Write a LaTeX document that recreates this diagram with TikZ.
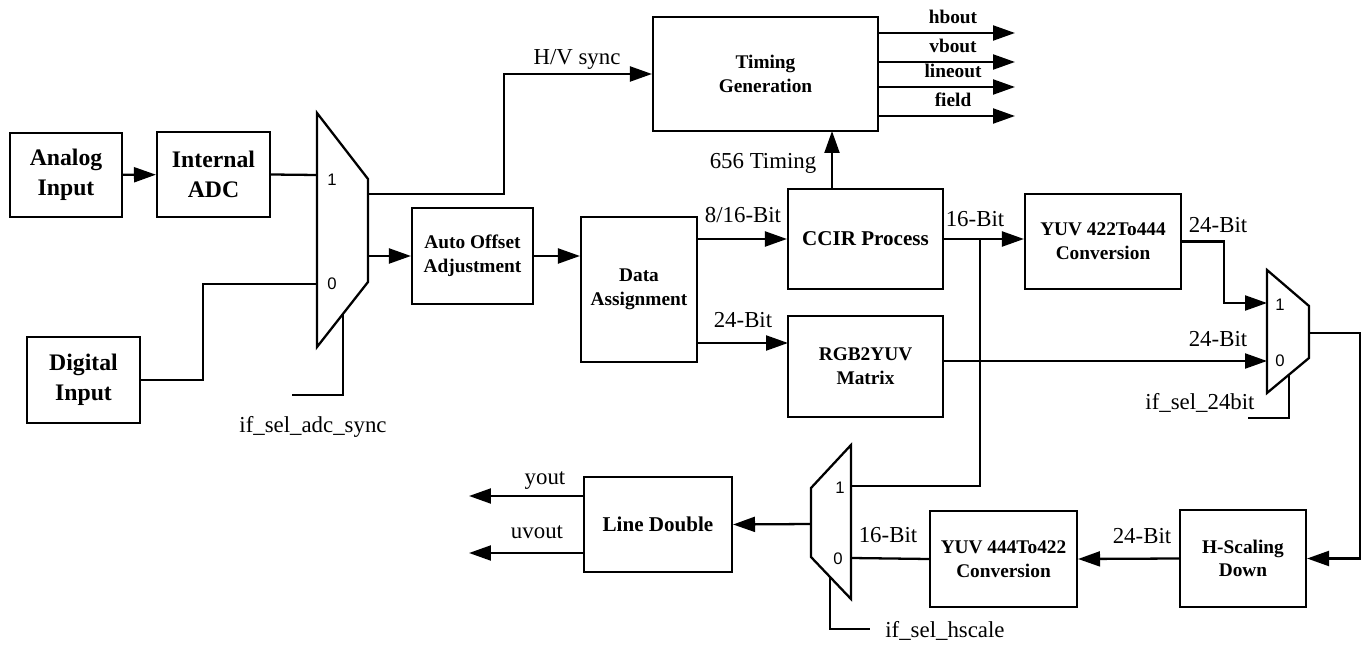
\documentclass[tikz,border=0pt]{standalone}
\usepackage{fontspec}
\setmainfont{Liberation Serif}
\setsansfont{Liberation Sans}
\usetikzlibrary{arrows.meta}
\tikzset{
  block/.style={
    draw,
    line width=1.2pt,
    align=center,
    inner sep=0pt,
    font=\fontsize{11}{13.5}\selectfont\bfseries
  },
  big block/.style={
    block,
    font=\fontsize{13.5}{17}\selectfont\bfseries
  },
  boxsize/.style 2 args={
    minimum width=#1*0.02cm,
    minimum height=#2*0.02cm
  },
  wire/.style={
    line width=1.3pt
  },
  bus label/.style={
    font=\fontsize{13}{15}\selectfont,
    inner sep=0pt,
    anchor=base
  },
  sig label/.style={
    font=\fontsize{11}{13}\selectfont\bfseries,
    inner sep=0pt,
    anchor=base
  },
  pin label/.style={
    font=\sffamily\fontsize{9.5}{10}\selectfont,
    inner sep=0pt
  }
}

\begin{document}
\begin{tikzpicture}[x=0.02cm, y=-0.02cm, >={Triangle[length=12.5pt, width=8.5pt]}, line join=miter]
    \useasboundingbox (0,0) rectangle (1367,645);

    % 输入方框
    \node[big block, boxsize={112}{84}] (analog) at (66,175) {Analog\\Input};
    \node[big block, boxsize={113}{85}] (adc) at (213.5,174.5) {Internal\\ADC};
    \node[big block, boxsize={113}{86}] (digital) at (83.5,380) {Digital\\Input};

    % 处理方框
    \node[block, boxsize={121}{96}] (offset) at (472.5,256) {Auto Offset\\Adjustment};
    \node[block, boxsize={116}{145}] (data) at (639,289.5) {Data\\Assignment};
    \node[block, boxsize={225}{114}] (timing) at (765.5,74) {Timing\\Generation};
    \node[block, boxsize={155}{100}, font=\fontsize{12}{14}\selectfont\bfseries] (ccir) at (865.5,239) {CCIR Process};
    \node[block, boxsize={155}{101}] (rgb) at (865.5,366.5) {RGB2YUV\\Matrix};
    \node[block, boxsize={156}{95}] (yuvup) at (1103,241.5) {YUV 422To444\\Conversion};
    \node[block, boxsize={126}{97}] (hscale) at (1243,558.5) {H-Scaling\\Down};
    \node[block, boxsize={147}{96}] (yuvdn) at (1003.5,559) {YUV 444To422\\Conversion};
    \node[block, boxsize={148}{95}, font=\fontsize{12}{14}\selectfont\bfseries] (linedbl) at (658,524.5) {Line Double};

    % 选择器 A (if_sel_adc_sync)
    \draw[wire] (317,113) -- (368,179) -- (368,282) -- (317,347) -- cycle;
    \coordinate (muxa-in1) at (317,175);
    \coordinate (muxa-in0) at (317,284);
    \coordinate (muxa-out1) at (368,194);
    \coordinate (muxa-out0) at (368,256);
    \coordinate (muxa-sel) at (343,314);
    \node[pin label] (muxa-p1) at (332,180) {1};
    \node[pin label] (muxa-p0) at (332,284) {0};

    % 选择器 B (if_sel_24bit)
    \draw[wire] (1267,270) -- (1309,306) -- (1309,358) -- (1267,393) -- cycle;
    \coordinate (muxb-in1) at (1267,303);
    \coordinate (muxb-in0) at (1267,361);
    \coordinate (muxb-out) at (1309,333);
    \coordinate (muxb-sel) at (1289,375);
    \node[pin label] (muxb-p1) at (1280,305) {1};
    \node[pin label] (muxb-p0) at (1280,361) {0};

    % 选择器 C (if_sel_hscale)
    \draw[wire] (851,445) -- (811,488) -- (811,557) -- (851,599) -- cycle;
    \coordinate (muxc-in1) at (851,486);
    \coordinate (muxc-in0) at (851,558);
    \coordinate (muxc-out) at (811,524);
    \coordinate (muxc-sel) at (830,577);
    \node[pin label] (muxc-p1) at (840,488) {1};
    \node[pin label] (muxc-p0) at (838,559) {0};

    % 输入连线
    \draw[wire, ->] (analog) -- (adc);
    \draw[wire] (adc.east) -- (muxa-in1);
    \draw[wire] (digital.east) -- ++(62,0) |- (muxa-in0);
    \draw[wire] (muxa-sel) -- ++(0,81) -- ++(-51,0);
    \node[bus label] (sel-a) at (313,433) {if\_sel\_adc\_sync};

    % 同步与数据通路
    \draw[wire, ->] (muxa-out1) -- ++(136,0) |- (timing.west);
    \node[bus label] (hv) at (577,65) {H/V sync};
    \draw[wire, ->] (muxa-out0) -- (offset.west);
    \draw[wire, ->] (offset.east) -- (offset.east -| data.west);
    \draw[wire, ->] (data.east |- ccir.west) -- (ccir.west);
    \node[bus label] (bit-a) at (743,223) {8/16-Bit};
    \coordinate (rgbin) at (788,343);
    \draw[wire, ->] (data.east |- rgbin) -- (rgbin);
    \node[bus label] (bit-b) at (743,328) {24-Bit};

    % 时序
    \coordinate (tmin) at (832,131);
    \draw[wire, ->] (ccir.north -| tmin) -- (tmin);
    \node[bus label] (t656) at (763,169) {656 Timing};
    \foreach \yy/\sig in {33/hbout, 62/vbout, 87/lineout, 116/field} {
      \coordinate (\sig-end) at (1015,\yy);
      \draw[wire, ->] (timing.east |- \sig-end) -- (\sig-end);
      \node[sig label] (\sig) at (953,\yy-9) {\sig};
    }

    % CCIR 之后
    \draw[wire, ->] (ccir.east) -- (ccir.east -| yuvup.west);
    \node[bus label] (bit-c) at (975,227) {16-Bit};
    \coordinate (tap) at (980,239);
    \draw[wire] (tap) |- (muxc-in1);
    \draw[wire, ->] (yuvup.east) -- ++(42,0) |- (muxb-in1);
    \node[bus label] (bit-d) at (1218,233) {24-Bit};
    \draw[wire, ->] (rgb.east |- muxb-in0) -- (muxb-in0);
    \node[bus label] (bit-e) at (1218,347) {24-Bit};
    \draw[wire] (muxb-sel) -- ++(0,43) -- ++(-41,0);
    \node[bus label] (sel-b) at (1200,410) {if\_sel\_24bit};

    % 缩放与输出
    \draw[wire, ->] (muxb-out) -- ++(51,0) |- (hscale.east);
    \draw[wire, ->] (hscale.west) -- (yuvdn.east);
    \node[bus label] (bit-f) at (1142,543) {24-Bit};
    \draw[wire] (yuvdn.west) -- (muxc-in0);
    \node[bus label] (bit-g) at (888,542) {16-Bit};
    \draw[wire, ->] (muxc-out) -- (linedbl.east);
    \draw[wire] (muxc-sel) -- ++(0,52) -- ++(40,0);
    \node[bus label, anchor=base west] (sel-c) at (885,637) {if\_sel\_hscale};
    \coordinate (yout) at (469,496);
    \coordinate (uvout) at (469,553);
    \draw[wire, ->] (linedbl.west |- yout) -- (yout);
    \draw[wire, ->] (linedbl.west |- uvout) -- (uvout);
    \node[bus label] (lab-y) at (545,484) {yout};
    \node[bus label] (lab-uv) at (537,539) {uvout};

  \end{tikzpicture}
\end{document}
